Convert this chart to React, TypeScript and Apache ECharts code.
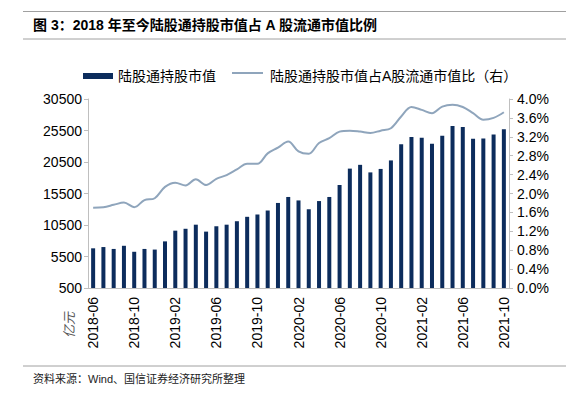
import React, { useEffect, useRef } from "react";
import * as echarts from "echarts";

const categories = [
  "2018-06", "2018-07", "2018-08", "2018-09", "2018-10", "2018-11", "2018-12",
  "2019-01", "2019-02", "2019-03", "2019-04", "2019-05", "2019-06", "2019-07",
  "2019-08", "2019-09", "2019-10", "2019-11", "2019-12", "2020-01", "2020-02",
  "2020-03", "2020-04", "2020-05", "2020-06", "2020-07", "2020-08", "2020-09",
  "2020-10", "2020-11", "2020-12", "2021-01", "2021-02", "2021-03", "2021-04",
  "2021-05", "2021-06", "2021-07", "2021-08", "2021-09", "2021-10",
];

const holdingValue = [
  6800, 7000, 6700, 7200, 6250, 6700, 6600, 7900, 9600, 9900,
  10550, 9450, 10300, 10550, 11100, 11800, 12150, 12800, 14000, 14950,
  14400, 13000, 14300, 14950, 16850, 19450, 20050, 18850, 19400, 20750,
  23300, 24450, 24350, 23400, 24650, 26200, 26050, 24200, 24250, 24850, 25700,
];

const holdingRatio = [
  1.70, 1.71, 1.76, 1.81, 1.71, 1.86, 1.90, 2.14, 2.23, 2.17,
  2.30, 2.18, 2.31, 2.39, 2.51, 2.63, 2.63, 2.85, 2.97, 3.10,
  2.89, 2.84, 3.07, 3.17, 3.31, 3.33, 3.31, 3.28, 3.33, 3.38,
  3.63, 3.83, 3.77, 3.70, 3.84, 3.88, 3.83, 3.70, 3.56, 3.60, 3.72,
];

const seriesNames = ["陆股通持股市值", "陆股通持股市值占A股流通市值比（右）"];
const titleText = "图 3：2018 年至今陆股通持股市值占 A 股流通市值比例";
const sourceText = "资料来源：Wind、国信证券经济研究所整理";
const unitText = "亿元";

const FONT = "'Liberation Sans', Arial, 'Noto Sans CJK SC', sans-serif";
const LINE_COLOR = "#8FA5BC";

export default function App() {
  const ref = useRef<HTMLDivElement>(null);
  useEffect(() => {
    if (!ref.current) return;
    const chart = echarts.init(ref.current, undefined, { renderer: "svg" });
    const axisLineColor = "#BFBFBF";
    chart.setOption({
      animation: false,
      backgroundColor: "#FFFFFF",
      textStyle: { fontFamily: FONT },
      grid: { left: 88, right: 76, top: 99, bottom: 111, containLabel: false },
      legend: {
        left: 78,
        top: 64,
        itemWidth: 30,
        itemHeight: 6,
        itemGap: 19,
        textStyle: { fontSize: 14, color: "#000", fontFamily: FONT },
        data: [
          { name: seriesNames[0], icon: "rect" },
          { name: seriesNames[1], icon: "none" },
        ],
      },
      xAxis: {
        type: "category",
        data: categories,
        boundaryGap: true,
        axisLine: { lineStyle: { color: axisLineColor, width: 1 } },
        axisTick: { interval: 3, length: 4, lineStyle: { color: axisLineColor } },
        axisLabel: {
          interval: 3,
          rotate: 90,
          fontSize: 14,
          color: "#000",
          margin: 9,
          fontFamily: FONT,
        },
        splitLine: { show: false },
      },
      yAxis: [
        {
          type: "value",
          min: 500,
          max: 30500,
          interval: 5000,
          axisLine: { show: true, lineStyle: { color: axisLineColor } },
          axisTick: { show: true, length: 4, lineStyle: { color: axisLineColor } },
          axisLabel: {
            fontSize: 14,
            color: "#000",
            margin: 6,
            fontFamily: FONT,
            formatter: (v: number) => String(Math.round(v)),
          },
          splitLine: { show: false },
        },
        {
          type: "value",
          min: 0,
          max: 4,
          interval: 0.4,
          position: "right",
          axisLine: { show: true, lineStyle: { color: axisLineColor } },
          axisTick: { show: true, length: 4, lineStyle: { color: axisLineColor } },
          axisLabel: {
            fontSize: 14,
            color: "#000",
            margin: 8,
            fontFamily: FONT,
            formatter: (v: number) => v.toFixed(1) + "%",
          },
          splitLine: { show: false },
        },
      ],
      series: [
        {
          name: seriesNames[0],
          type: "bar",
          yAxisIndex: 0,
          data: holdingValue,
          barWidth: 4,
          itemStyle: { color: "#0C2C5C" },
        },
        {
          name: seriesNames[1],
          type: "line",
          yAxisIndex: 1,
          data: holdingRatio,
          smooth: 0.35,
          symbol: "none",
          lineStyle: { color: LINE_COLOR, width: 2 },
          itemStyle: { color: LINE_COLOR },
        },
      ],
      graphic: [
        {
          type: "line",
          shape: { x1: 23, y1: 11.5, x2: 566, y2: 11.5 },
          style: { stroke: "#A0A0A0", lineWidth: 1 },
        },
        {
          type: "line",
          shape: { x1: 23, y1: 39, x2: 566, y2: 39 },
          style: { stroke: "#A0A0A0", lineWidth: 1 },
        },
        {
          type: "text",
          x: 33,
          y: 25,
          style: {
            text: titleText,
            fontSize: 14,
            fontWeight: "bold",
            fill: "#000",
            fontFamily: FONT,
            verticalAlign: "middle",
          },
        },
        {
          type: "line",
          shape: { x1: 232, y1: 73, x2: 263, y2: 73 },
          style: { stroke: LINE_COLOR, lineWidth: 2 },
        },
        {
          type: "line",
          shape: { x1: 23, y1: 366, x2: 566, y2: 366 },
          style: { stroke: "#A0A0A0", lineWidth: 1 },
        },
        {
          type: "text",
          x: 33,
          y: 379,
          style: {
            text: sourceText,
            fontSize: 11,
            fill: "#222",
            fontFamily: FONT,
            verticalAlign: "middle",
          },
        },
        {
          type: "text",
          x: 69,
          y: 325,
          rotation: Math.PI / 2,
          style: {
            text: unitText,
            fontSize: 13,
            fontStyle: "italic",
            fill: "#555",
            fontFamily: FONT,
            align: "center",
            verticalAlign: "middle",
          },
        },
      ],
    });
    return () => chart.dispose();
  }, []);
  return (
    <div
      ref={ref}
      style={{ width: 585, height: 399, position: "absolute", left: 0, top: 0 }}
    />
  );
}
